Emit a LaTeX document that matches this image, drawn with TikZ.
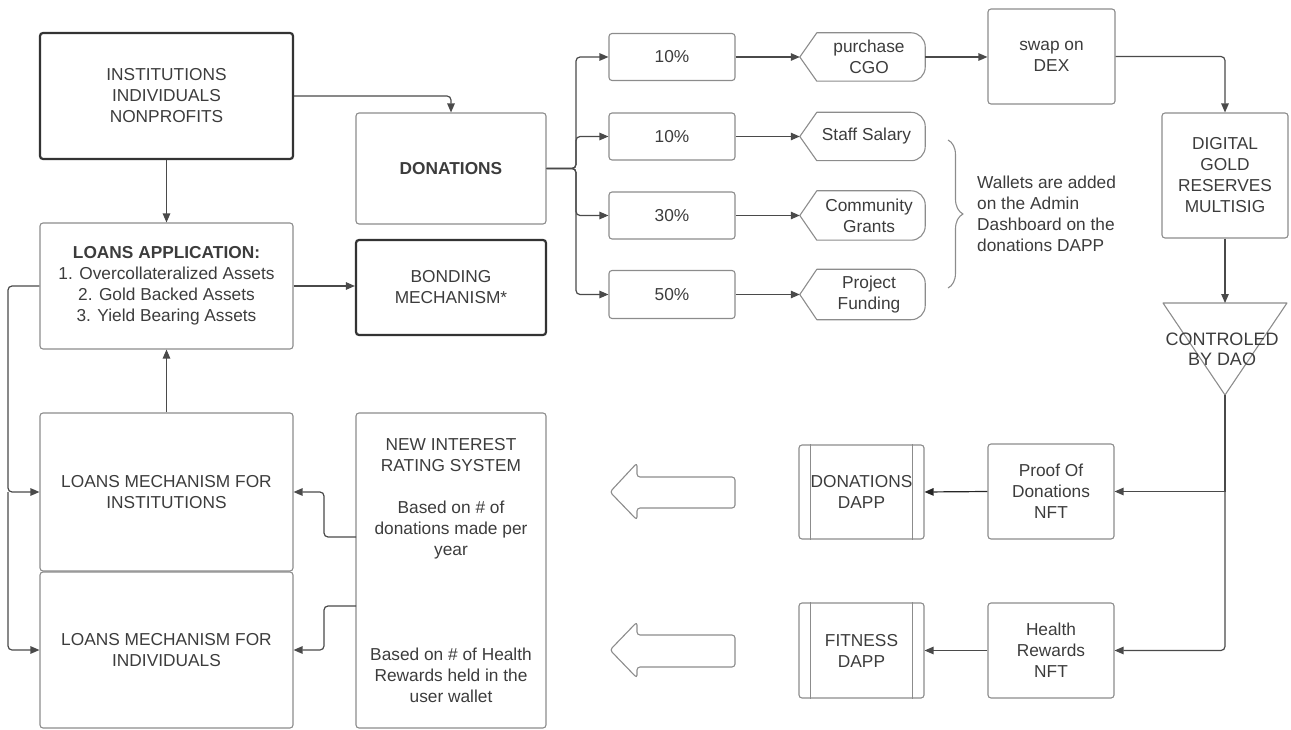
\documentclass[tikz,border=0pt]{standalone}
\usepackage{fontspec}
\setmainfont{Liberation Sans}
\usetikzlibrary{arrows.meta,decorations.pathreplacing,calc}
\definecolor{ln}{HTML}{4A4A4A}
\definecolor{bd}{HTML}{8C8C8C}
\definecolor{tk}{HTML}{333333}
\definecolor{tx}{HTML}{3C3C3C}
\begin{document}
\begin{tikzpicture}[x=1pt,y=-1pt,
  every node/.style={font=\fontsize{17.3}{21}\selectfont, text=tx, align=center, inner sep=0pt},
  box/.style={draw=bd, line width=1.1pt, rounded corners=3pt},
  tbox/.style={draw=tk, line width=2.2pt, rounded corners=3pt},
  sz/.style 2 args={minimum width=#1pt, minimum height=#2pt},
  outl/.style={draw=bd, line width=1.1pt, line join=round},
  conn/.style={draw=ln, line width=1.2pt, rounded corners=4pt, -{Triangle[length=9pt,width=7.5pt]}},
  plain/.style={draw=ln, line width=1.2pt, rounded corners=4pt}
]
\useasboundingbox (0,0) rectangle (1291,730);

% left column
\node[tbox, sz={253}{126}] (inst) at (166.5,96) {INSTITUTIONS\\INDIVIDUALS\\NONPROFITS};
\node[box, sz={253}{126}] (app) at (166.5,286) {\textbf{LOANS APPLICATION:}\\1. Overcollateralized Assets\\2. Gold Backed Assets\\3. Yield Bearing Assets};
\node[box, sz={253}{158}] (lmi) at (166.5,492) {LOANS MECHANISM FOR\\INSTITUTIONS};
\node[box, sz={253}{156}] (lmd) at (166.5,650) {LOANS MECHANISM FOR\\INDIVIDUALS};

% middle column
\node[box, sz={190}{111}] (don) at (451,168.5) {\textbf{DONATIONS}};
\node[tbox, sz={190}{95}] (bond) at (451,287.5) {BONDING\\MECHANISM*};
\node[box, sz={190}{315}] (nirs) at (451,570.5) {NEW INTEREST\\RATING SYSTEM\\[21pt]Based on \# of\\donations made per\\year\\[84pt]Based on \# of Health\\Rewards held in the\\user wallet};

% percentages
\node[box, sz={126}{47}] (p1) at (672,57) {10\%};
\node[box, sz={126}{47}] (p2) at (672,136.5) {10\%};
\node[box, sz={126}{47}] (p3) at (672,215.5) {30\%};
\node[box, sz={126}{48}] (p4) at (672,294.5) {50\%};

% display shapes
\node[sz={125}{48}] (d1) at (862.5,57) {};
\node[sz={125}{48}] (d2) at (862.5,136.5) {};
\node[sz={125}{49}] (d3) at (862.5,215.5) {};
\node[sz={125}{50}] (d4) at (862.5,294.5) {};
\foreach \n in {d1,d2,d3,d4}
  \draw[outl] (\n.west) -- ([xshift=17pt]\n.north west) -- ([xshift=-14pt]\n.north east)
     arc[start angle=90, end angle=0, radius=14pt] -- ([yshift=14pt]\n.south east)
     arc[start angle=0, end angle=-90, radius=14pt] -- ([xshift=17pt]\n.south west) -- cycle;
\node (d1t) at ([xshift=6.5pt]d1.center) {purchase\\CGO};
\node (d2t) at ([xshift=4pt]d2.center) {Staff Salary};
\node (d3t) at ([xshift=6.5pt]d3.center) {Community\\Grants};
\node (d4t) at ([xshift=6.5pt]d4.center) {Project\\Funding};

% brace + note
\draw[outl, decorate, decoration={brace, amplitude=15pt}] (948,140) -- (948,288);
\node[anchor=west, align=left] (wal) at (977,213.5) {Wallets are added\\on the Admin\\Dashboard on the\\donations DAPP};

% right column
\node[box, sz={127}{95}] (dex) at (1051.5,56.5) {swap on\\DEX};
\node[box, sz={126}{125}] (dgr) at (1225,175.5) {DIGITAL\\GOLD\\RESERVES\\MULTISIG};
\coordinate (tl) at (1163,303);
\coordinate (tr) at (1287,303);
\coordinate (tt) at (1225,303);
\coordinate (tb) at (1225,395);
\draw[outl] (tl) -- (tr) -- (tb) -- cycle;
\node[font=\fontsize{18}{20}\selectfont] (dao) at (1222,349) {CONTROLED\\BY DAO};

\node[box, sz={126}{95}] (pod) at (1051,491.5) {Proof Of\\Donations\\NFT};
\node[box, sz={126}{95}] (hr) at (1051,650.5) {Health\\Rewards\\NFT};
\node[box, sz={125}{94}] (ddapp) at (861.5,492) {DONATIONS\\DAPP};
\node[box, sz={125}{95}] (fdapp) at (861.5,650.5) {FITNESS\\DAPP};
\foreach \n in {ddapp,fdapp}{
  \draw[outl] ([xshift=12pt]\n.north west) -- ([xshift=12pt]\n.south west);
  \draw[outl] ([xshift=-12pt]\n.north east) -- ([xshift=-12pt]\n.south east);
}

% hollow arrows
\draw[outl, rounded corners=3pt] (610,492) -- (637,463) -- (637,477) -- (735,477) -- (735,508) -- (637,508) -- (637,520) -- cycle;
\draw[outl, rounded corners=3pt] (610,650) -- (637,622) -- (637,635) -- (735,635) -- (735,667) -- (637,667) -- (637,678) -- cycle;

% connectors
\draw[conn] (inst.east) -| (don.north);
\draw[conn] (inst.south) -- (app.north);
\draw[conn] (app.east) -- (app.east -| bond.west);
\draw[conn] (lmi.north) -- (app.south);
\coordinate (lx) at (8,286);
\draw[conn] (app.west) -| (lx |- lmi.west) -- (lmi.west);
\draw[conn] (lx |- lmi.west) |- (lmd.west);

\coordinate (c1) at (356,537);
\coordinate (c2) at (356,606);
\coordinate (jx) at (324,0);
\draw[conn] (c1) -| (jx |- lmi.east) -- (lmi.east);
\draw[conn] (c2) -| (jx |- lmd.east) -- (lmd.east);

\coordinate (trk) at (576,0);
\foreach \i in {1,...,4}{
  \draw[conn] (don.east) -| (trk |- p\i.west) -- (p\i.west);
  \draw[conn] (p\i.east) -- (d\i.west);
}
\draw[conn] (d1.east) -- (d1.east -| dex.west);
\draw[conn] (dex.east) -| (dgr.north);
\draw[conn] (dgr.south) -- (tt);
\draw[plain] (tb) -- (tb |- pod.east);
\draw[conn] (tb) |- (hr.east);
\draw[conn] (tb |- pod.east) -- (pod.east);
\draw[conn, draw=black!85] (pod.west) -- (ddapp.east);
\draw[conn] (hr.west) -- (fdapp.east);
\end{tikzpicture}
\end{document}
